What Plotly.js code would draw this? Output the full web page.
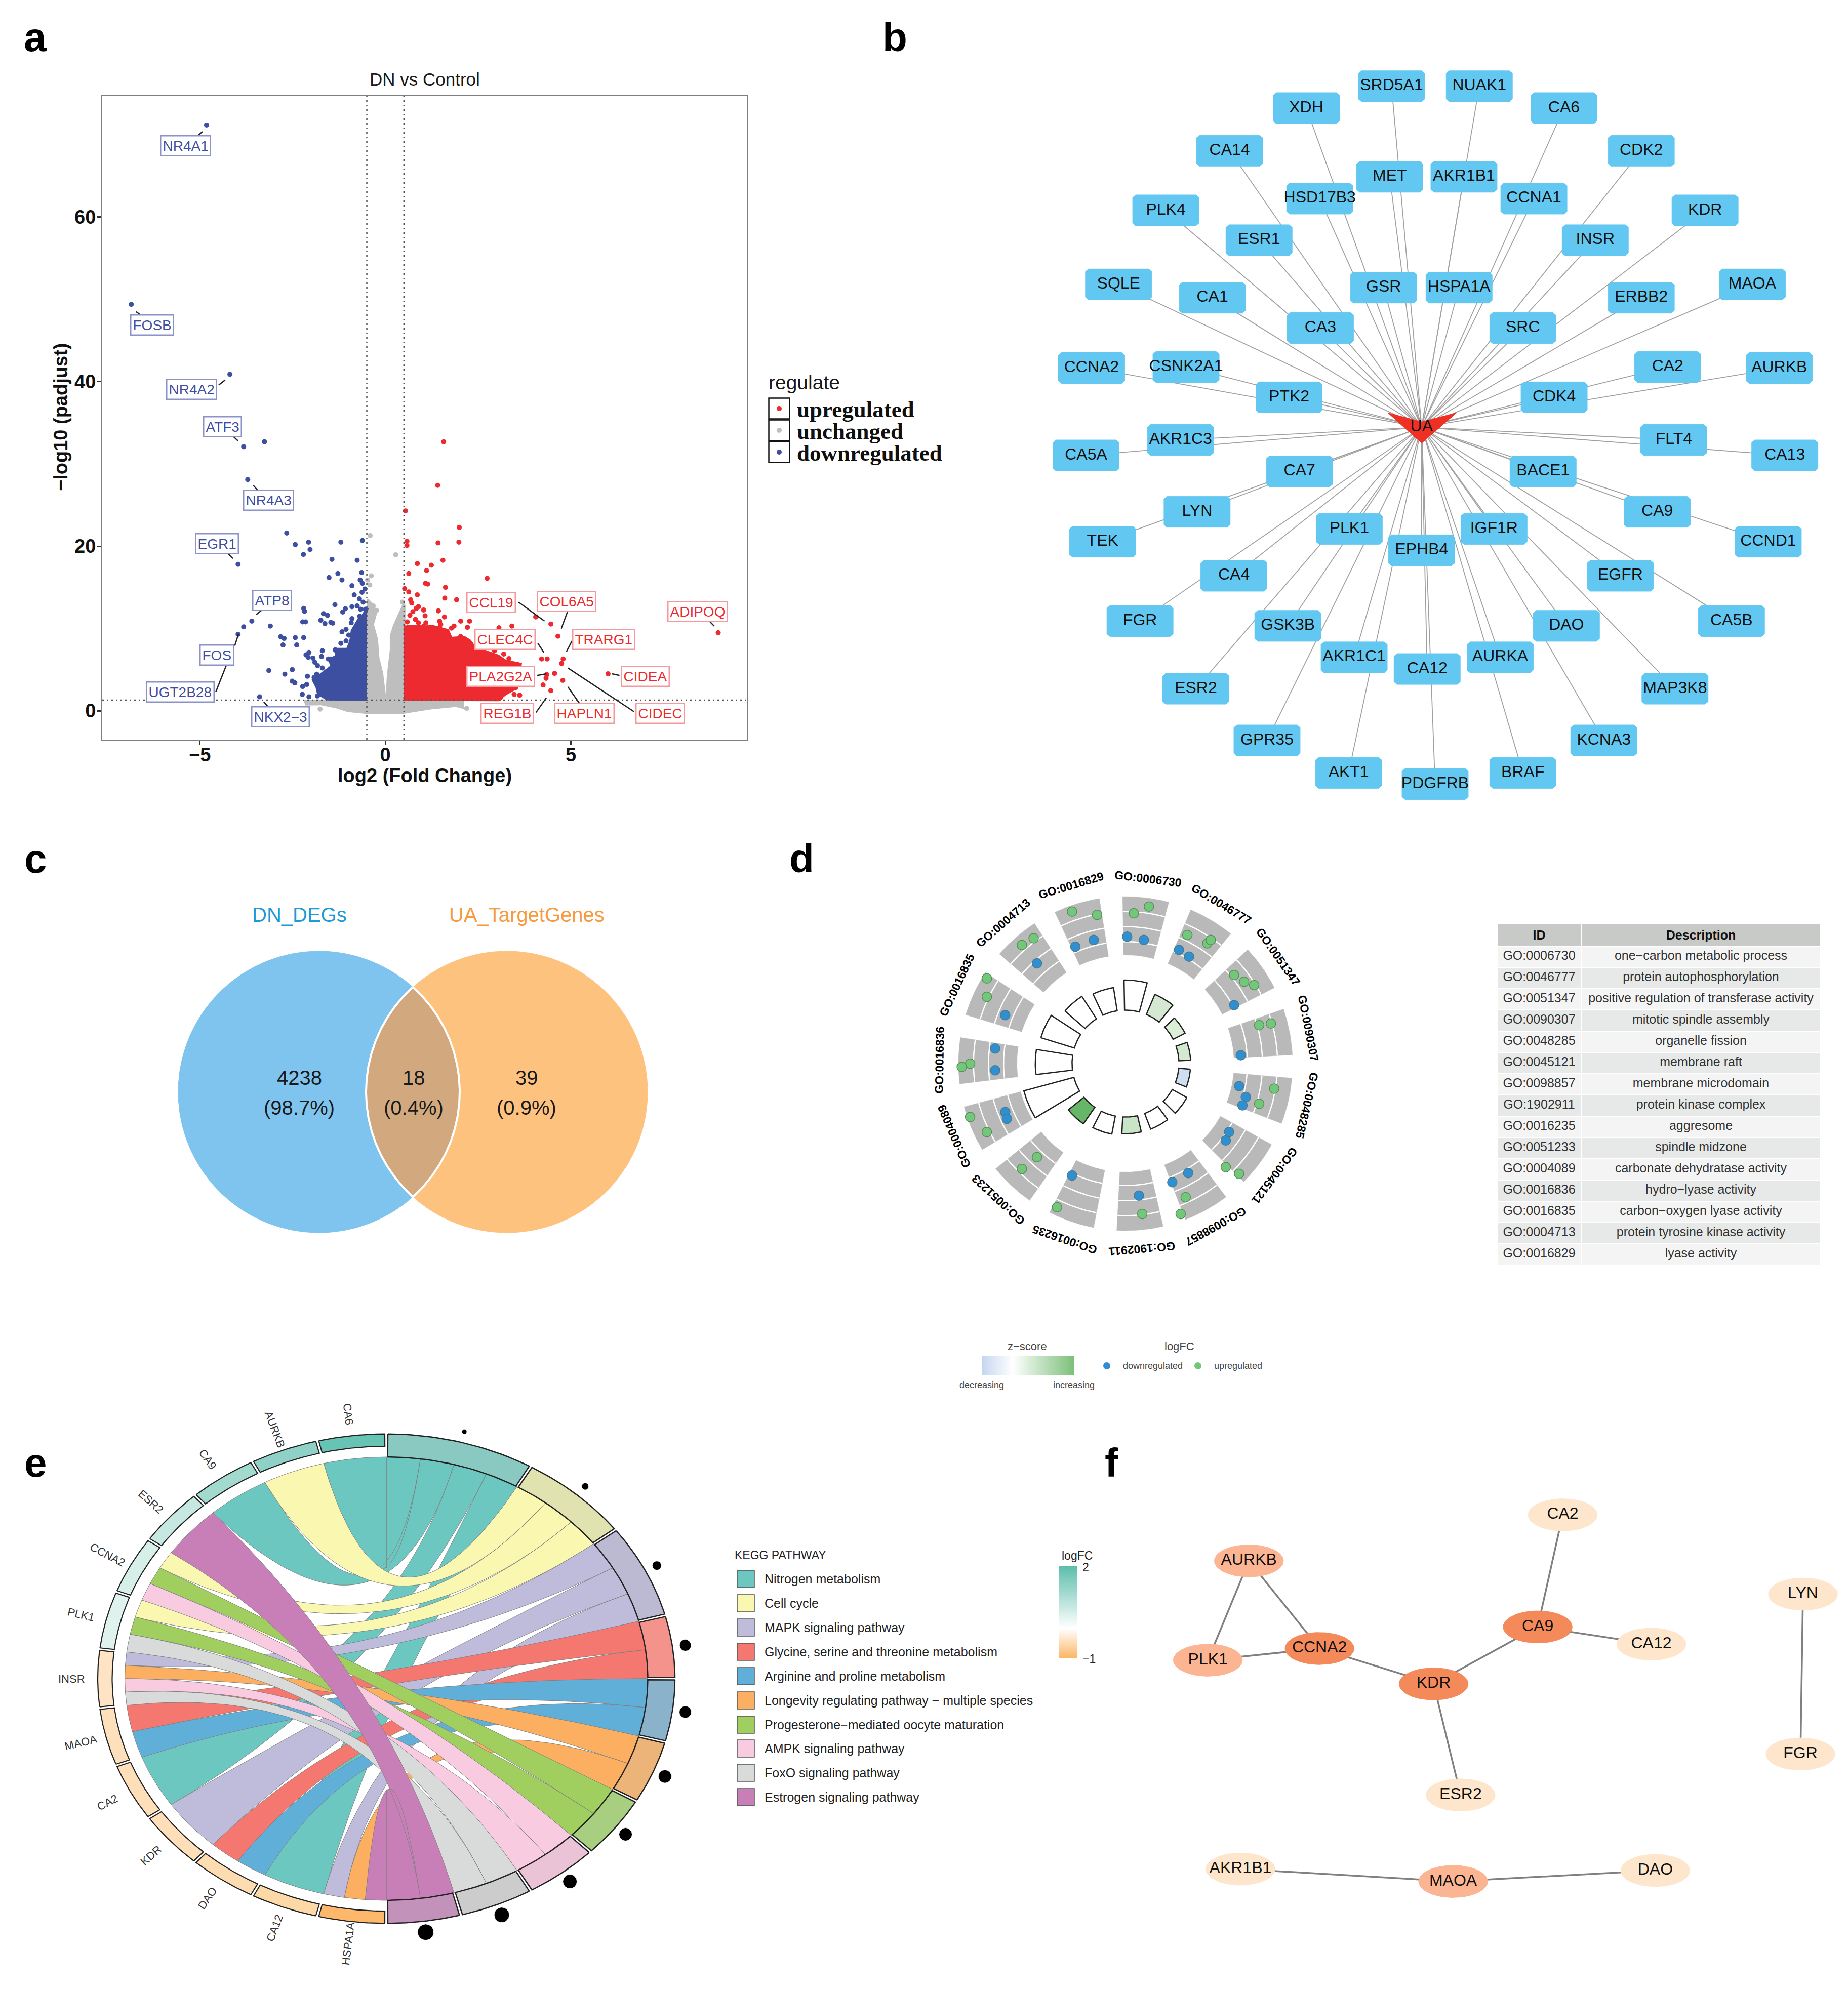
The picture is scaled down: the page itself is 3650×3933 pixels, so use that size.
<!DOCTYPE html>
<html><head><meta charset="utf-8">
<script src="https://cdn.plot.ly/plotly-3.0.1.min.js"></script>
<style>html,body{margin:0;padding:0;background:#fff}</style></head>
<body><div id="chart" style="width:3650px;height:3933px"></div>
<script>
// ---------- panel a: volcano ----------
const upX=[1.57,1.41,.54,1.99,1.98,1.42,.58,.58,1.55,.86,1.24,1.11,.63,2.74,1.08,1.14,1.62,.52,.63,.86,1.6,1.92,.68,.71,.89,.83,1.03,.74,.66,1.43,1.07,1.59,.81,.89,.59,1.09,1.46,2.03,2.27,1.85,1.78,2.21,3.06,3.41,4.05,4.46,4.65,4.21,4.36,4.79,4.75,4.56,4.35,4.33,4.78,4.25,4.46,6.0,3.19,2.94,3.33,3.58,3.4,3.47,3.62,3.17,3.1,8.97,.67,.9,1.03,1.26,1.42,1.49,1.46,1.65,1.8,2.03,2.12,2.3,2.53,2.76,2.94,3.03,3.24,3.58,3.51,3.2,3.12,3.07,2.81];
const upY=[32.7,27.4,24.3,22.3,20.5,20.4,20.6,20.1,18.3,17.9,17.7,17.05,16.7,16.1,15.5,15.4,15,14.85,14.45,14.1,13.7,13.5,13.5,13.1,12.65,12.45,12.25,12.05,11.6,12.15,11.55,11.4,11.1,10.7,10.8,10.7,10.9,10.9,10.9,10.3,10.05,10.15,10.1,10.3,11.4,10.55,9.07,6.3,6.3,6.3,5.75,4.55,4.4,3.95,3.7,3.15,2.45,4.5,6.9,7.3,6.35,5.6,5.6,2.0,1.9,2.2,1.6,9.5,9.99,10.2,10.26,9.99,9.58,10.5,10.1,9.48,8.66,9.03,8.45,8.14,7.22,6.81,6.6,5.99,5.68,5.48,2.81,2.91,2.91,1.48,1.48];
const upCoreX=[.5,3.03,3.22,3.53,3.62,3.22,3.03,2.76,2.4,2.26,2.12,1.76,1.67,1.26,.99,.67,.5];
const upCoreY=[1.45,1.4,2.1,2.9,5.6,6.0,6.6,7.0,7.6,8.45,8.85,8.75,9.7,10.2,10.1,10.2,10.1];
const downX=[-4.82,-6.85,-4.19,-3.82,-3.26,-3.71,-2.66,-2.43,-2.07,-2.03,-2.21,-1.2,-.62,-1.44,-.76,-.64,-1.28,-1.52,-1.17,-.68,-.62,-.9,-.55,-.63,-.84,-3.97,-3.6,-3.82,-3.97,-3.1,-2.2,-2.18,-2.23,-2.15,-2.82,-2.73,-2.43,-2.2,-2.76,-2.39,-3.14,-2.71,-2.51,-3.39,-2.1,-2.51,-2.44,-2.23,-2.12,-2.24,-2.06,-1.36,-1.08,-1.15,-.9,-1.67,-1.56,-1.74,-1.63,-1.47,-1.42,-.9,-.92,-1.06,-1.17,-.99,-1.2,-1.06,-2.06,-2.14,-2.08,-1.95,-1.9,-1.83,-1.7,-1.72,-1.7,-1.85,-1.9,-1.35,-1.47,-1.83,-1.79,-.7,-.6,-.76,-.67,-.54,-.69,-1.92,-1.74,-1.56,-1.33,-1.54];
const downY=[71.2,49.4,40.9,32.1,32.7,28.1,21.6,20.2,20.5,19.6,19,20.5,20.7,18.4,18.3,16.8,16.7,16.2,15.9,15.9,15.5,15.2,14.8,14.4,14.1,17.8,10.9,10.2,9.3,10.3,12.45,12.1,10.8,10.8,9,8.8,8.9,8.9,8,8,4.9,4.45,5,1.7,4.2,3.6,3.4,2.95,3.2,2,1.7,12.9,12.4,12,12.65,11.8,11.6,11,10.6,10.75,10.65,11.2,10.7,9.9,9.6,9.2,8.2,8.5,7.1,6.8,6.5,6.4,5.9,5.5,7.3,6.6,5.2,4.45,3.7,7.4,6.3,1.8,2.6,13.6,13.2,12.75,12.35,12.35,11.5,4.06,3.3,4.55,5.78,6.3];
const downCoreX=[-.5,-1.56,-1.79,-1.83,-1.92,-1.74,-1.6,-1.42,-1.49,-1.29,-1.33,-1.01,-.92,-.88,-.7,-.56,-.5];
const downCoreY=[1.45,1.5,2.1,2.9,3.7,4.35,4.76,5.4,6.2,6.6,7.4,7.4,8.45,9.7,11.1,11.7,12.55];
const flatX=[-.41,.28,-.38,-.48,-.42,-.33,-.24,.46,-1.76,2.19];
const flatY=[21.3,18.95,16.4,15.9,15.3,12.75,12.2,13.2,.2,.3];
const flatCoreX=[-.5,-.47,-.33,-.26,-.35,-.24,-.2,-.1,-.04,0,.05,.08,.16,.16,.24,.35,.39,.5,.5,2.08,2.08,1.9,1.21,.46,-.51,-1.01,-1.29,-1.74,-2.13,-2.15,-.5];
const flatCoreY=[13.4,13.4,12.75,11.95,10.5,8.7,6.4,4.55,2.3,1,1.7,4.3,7.4,9.1,10.3,11.5,11.8,12.9,1.27,1.27,.45,.65,.35,-.2,-.2,.04,.45,.86,.82,1.17,1.27];
const geneTags=['NR4A1','FOSB','NR4A2','ATF3','NR4A3','EGR1','ATP8','FOS','UGT2B28','NKX2\u22123','CCL19','COL6A5','ADIPOQ','CLEC4C','TRARG1','PLA2G2A','CIDEA','REG1B','HAPLN1','CIDEC'];
const tagX=[-5.38,-6.29,-5.22,-4.39,-3.15,-4.54,-3.05,-4.54,-5.53,-2.83,2.85,4.88,8.41,3.23,5.89,3.11,7.0,3.28,5.36,7.4];
const tagY=[68.7,46.9,39.1,34.5,25.6,20.3,13.4,6.8,2.3,-.75,13.2,13.3,12.05,8.7,8.7,4.2,4.2,-.3,-.3,-.3];
const leadX=[[-5.05,-4.93],[-6.72,-6.59],[-4.49,-4.32],[-4.09,-3.97],[-3.56,-3.44],[-4.24,-4.11],[-3.48,-3.34],[-4.06,-3.96],[-4.57,-4.29],[-3.28,-3.15],[3.59,4.29],[4.92,4.74],[8.73,8.86],[4.11,4.27],[5.03,4.88],[4.09,4.34],[6.31,6.11],[4.06,4.34],[5.23,4.92],[6.7,4.92]];
const leadY=[[69.9,70.4],[48.5,48.1],[39.6,40.2],[33.3,32.8],[27.4,26.8],[19.1,18.5],[11.7,12.2],[7.9,9.3],[2.3,5.5],[1.1,.44],[13.2,10.9],[12.2,10],[10.9,10.3],[8.2,7.1],[8.5,7.2],[4.3,4.5],[4.3,4.5],[-.2,1.6],[.9,2.9],[-.1,5.2]];
// ---------- panel b: target network ----------
const netNames=['SRD5A1','NUAK1','XDH','CA6','CA14','CDK2','MET','AKR1B1','HSD17B3','CCNA1','PLK4','KDR','ESR1','INSR','SQLE','MAOA','GSR','HSPA1A','CA1','ERBB2','CA3','SRC','CCNA2','CSNK2A1','CA2','AURKB','PTK2','CDK4','AKR1C3','FLT4','CA5A','CA13','CA7','BACE1','LYN','CA9','PLK1','IGF1R','TEK','CCND1','EPHB4','CA4','EGFR','FGR','CA5B','GSK3B','DAO','AKR1C1','AURKA','CA12','ESR2','MAP3K8','GPR35','KCNA3','AKT1','BRAF','PDGFRB'];
const netX=[824,967,685,1105,560,1231,821,942,707,1056,456,1335,608,1156,379,1412,811,934,532,1231,708,1038,335,489,1274,1456,657,1089,480,1284,326,1465,674,1071,507,1257,755,991,353,1438,873,567,1197,414,1378,655,1109,763,1001,882,505,1286,621,1170,754,1038,895];
const netY=[160,160,201,201,281,281,330,330,371,371,393,393,449,449,532,532,538,538,557,557,614,614,689,687,687,689,744,744,824,824,853,853,883,883,959,959,991,991,1015,1015,1031,1079,1079,1164,1164,1173,1173,1232,1232,1254,1291,1291,1388,1388,1449,1449,1470];
const hubName='UA', hubX=873, hubY=800;
// ---------- panel c: Venn ----------
const vennNames=['DN_DEGs','UA_TargetGenes'];
const vennCounts=['4238','18','39'];
const vennShares=['(98.7%)','(0.4%)','(0.9%)'];
// ---------- panel d: GO circle ----------
const goIds=['GO:0006730','GO:0046777','GO:0051347','GO:0090307','GO:0048285','GO:0045121','GO:0098857','GO:1902911','GO:0016235','GO:0051233','GO:0004089','GO:0016836','GO:0016835','GO:0004713','GO:0016829'];
const goDesc=['one\u2212carbon metabolic process','protein autophosphorylation','positive regulation of transferase activity','mitotic spindle assembly','organelle fission','membrane raft','membrane microdomain','protein kinase complex','aggresome','spindle midzone','carbonate dehydratase activity','hydro\u2212lyase activity','carbon\u2212oxygen lyase activity','protein tyrosine kinase activity','lyase activity'];
const goCount=[.5,.45,.40,.39,.39,.42,.42,.42,.43,.44,.63,.54,.53,.48,.46];
const goZ=['#ffffff','#d5e9d2','#dcedd8','#d3e9d0','#cfdff3','#ffffff','#ffffff','#c8e5c5','#ffffff','#66b668','#ffffff','#ffffff','#ffffff','#ffffff','#ffffff'];
const goDownX=[.01,.11,-.19,-.30,-.53,-.72,-.78,-.78,-.72,-.71,-.32,.08,.28,.375,.60,.62,.68,.72,.70,.69,.65,.32,.38];
const goDownY=[.76,.74,.74,.70,.60,.29,.09,-.04,-.29,-.33,-.67,-.79,-.71,-.655,-.46,-.41,-.135,-.20,-.25,.05,.35,.68,.64];
const goUpX=[.14,.05,-.32,-.17,-.55,-.62,-.83,-.83,-.93,-.98,-.93,-.83,-.62,-.53,-.41,.10,.36,.33,.60,.68,.89,.80,.80,.87,.65,.71,.77,.37,.49,.51];
const goUpY=[.94,.90,.91,.89,.75,.71,.51,.40,0,-.02,-.32,-.41,-.63,-.56,-.86,-.90,-.80,-.90,-.62,-.66,-.15,-.24,.23,.24,.53,.49,.47,.77,.72,.74];
// ---------- panel e: chord ----------
const pathNames=['Nitrogen metabolism','Cell cycle','MAPK signaling pathway','Glycine, serine and threonine metabolism','Arginine and proline metabolism','Longevity regulating pathway \u2212 multiple species','Progesterone\u2212mediated oocyte maturation','AMPK signaling pathway','FoxO signaling pathway','Estrogen signaling pathway'];
const pathRibbon=['#6cc7c1','#f9f7b0','#bfbcdb','#f4786f','#60afd8','#fcaf60','#a0cf5f','#f8cbe0','#d9dada','#c87fb7'];
const pathSector=['#89c9c2','#e0e3b0','#bcbad3','#f4938c','#8ab3cb','#ecb479','#a8cf80','#eac3d6','#cccccc','#c392ba'];
const pathSig=[10,14,18,23,24,26,26,28,30,32];
const chordGenes=['CA6','AURKB','CA9','ESR2','CCNA2','PLK1','INSR','MAOA','CA2','KDR','DAO','CA12','HSPA1A'];
const chordGeneFill=['#67c4b4','#8fd1c6','#a3dad0','#c7e8e0','#d6efe9','#dff2ee','#fee3c4','#fee0bd','#fedfb9','#fedfb9','#fedcb2','#fdd9a8','#fdb86c'];
const chordLinks=[[0],[1],[0],[9],[1,6,7],[1,6,8],[2,5,7,8],[3,4],[0],[2],[3,4],[0],[2,5,9]];
// ---------- panel f: PPI ----------
const ppiNames=['CA2','AURKB','LYN','CA9','CA12','CCNA2','PLK1','KDR','FGR','ESR2','AKR1B1','DAO','MAOA'];
const ppiX=[998,371,1478,948,1175,512,289,740,1473,794,354,1183,779];
const ppiY=[264,390,481,571,618,630,662,727,919,1031,1234,1238,1268];
const ppiFill=['#fee6cc','#fbb592','#fee6cc','#f4895a','#fee6cc','#f4895a','#fbb592','#f4895a','#fee6cc','#fee6cc','#fee6cc','#fee6cc','#fbb592'];
const ppiEdges=[['AURKB','PLK1'],['AURKB','CCNA2'],['PLK1','CCNA2'],['CCNA2','KDR'],['KDR','CA9'],['CA9','CA2'],['CA9','CA12'],['KDR','ESR2'],['LYN','FGR'],['AKR1B1','MAOA'],['MAOA','DAO']];

// ---------- build ----------
const W=3650,H=3933,SANS='Liberation Sans',SERIF='Liberation Serif';
const layout={width:W,height:H,margin:{l:0,r:0,t:0,b:0},paper_bgcolor:'#fff',plot_bgcolor:'rgba(0,0,0,0)',showlegend:false,hovermode:false,annotations:[],font:{family:SANS}};
const traces=[];
function ax(id,L,T,w,h,xr,yr){
  const s=id===1?'':id;
  layout['xaxis'+s]={domain:[L/W,(L+w)/W],range:xr,visible:false,anchor:'y'+s,fixedrange:true};
  layout['yaxis'+s]={domain:[1-(T+h)/H,1-T/H],range:yr,visible:false,anchor:'x'+s,fixedrange:true};
}
function add(id,t){const s=id===1?'':id;t.xaxis='x'+s;t.yaxis='y'+s;t.hoverinfo='skip';t.cliponaxis=false;traces.push(t);}
function note(id,x,y,text,size,opt){
  const s=id===1?'':id;
  layout.annotations.push(Object.assign({xref:'x'+s,yref:'y'+s,x,y,text,showarrow:false,font:{family:SANS,size,color:'#1a1a1a'}},opt||{}));
}
function poly(id,xs,ys,fill,lineColor,lineW){
  add(id,{type:'scatter',mode:'lines',x:xs,y:ys,fill:'toself',fillcolor:fill,line:{color:lineColor||fill,width:lineW===undefined?1:lineW,shape:'linear'}});
}
function dots(id,xs,ys,color,size){add(id,{type:'scatter',mode:'markers',x:xs,y:ys,marker:{color,size,line:{width:0}}});}
const rad=d=>d*Math.PI/180;
const pol=(th,r)=>[r*Math.sin(rad(th)),r*Math.cos(rad(th))];

// axes ids: 1 volcano, 2 page, 3 network, 4 venn, 5 go circle, 6 chord, 7 ppi, 8 z legend, 9 logFC legend
ax(2,0,0,W,H,[0,W],[H,0]);
ax(3,1750,2,1900,1650,[0,1568],[1568,0]);
ax(4,300,1780,1020,700,[300,1320],[2480,1780]);
ax(5,1827,1705,792,792,[-1.2,1.2],[-1.2,1.2]);
ax(6,763-684,3316-580,1368,1160,[-1.2,1.2],[-1.2,1.2]);
ax(7,2100,2802,1550,1131,[0,1568],[1568,0]);
ax(8,1939,2679,182,38,[-1,2],[0,1]);
ax(9,2091,3094,36,182,[0,1],[-1,2]);

// --- a
const tickFont={family:SANS,size:38,color:'#111',weight:700};
layout.xaxis={domain:[202/W,1475/W],range:[-7.63,9.74],anchor:'y',fixedrange:true,showline:true,mirror:true,linecolor:'#7f7f7f',linewidth:3,showgrid:false,zeroline:false,ticks:'outside',ticklen:8,tickwidth:3,tickcolor:'#333',tickvals:[-5,0,5],tickfont:tickFont,ticklabelstandoff:-14};
layout.yaxis={domain:[1-1461/H,1-190/H],range:[-3.5,74.7],anchor:'x',fixedrange:true,showline:true,mirror:true,linecolor:'#7f7f7f',linewidth:3,showgrid:false,zeroline:false,ticks:'outside',ticklen:8,tickwidth:3,tickcolor:'#333',tickvals:[0,20,40,60],tickfont:tickFont,ticklabelstandoff:-6};
poly(1,flatCoreX,flatCoreY,'#bebebe','#bebebe',6);
dots(1,flatX,flatY,'#bebebe',10);
poly(1,upCoreX,upCoreY,'#ee2a31','#ee2a31',8);
dots(1,upX,upY,'#ee2a31',10);
poly(1,downCoreX,downCoreY,'#3d4fa1','#3d4fa1',8);
dots(1,downX,downY,'#3d4fa1',10);
add(1,{type:'scatter',mode:'lines',x:[-.5,-.5,null,.5,.5,null,-7.63,9.74],y:[-3.5,74.7,null,-3.5,74.7,null,1.3,1.3],line:{color:'#555',width:2.5,dash:'3px,6px'},cliponaxis:true});
{const lx=[],ly=[];leadX.forEach((a,i)=>{lx.push(a[0],a[1],null);ly.push(leadY[i][0],leadY[i][1],null);});
 add(1,{type:'scatter',mode:'lines',x:lx,y:ly,line:{color:'#222',width:2.5}});}
geneTags.forEach((t,i)=>{const up=i>=10;
 note(1,tagX[i],tagY[i],t,28,{font:{family:SANS,size:28,color:up?'#ee2a31':'#3f4ea0'},bgcolor:'#fff',bordercolor:up?'#f7999b':'#8c93c8',borderwidth:2.5,borderpad:3});});
note(2,839,156,'DN vs Control',35);
note(2,839,1532,'log2 (Fold Change)',38,{font:{family:SANS,size:38,color:'#111',weight:700}});
note(2,120,824,'\u2212log10 (padjust)',38,{textangle:-90,font:{family:SANS,size:38,color:'#111',weight:700}});
note(2,1516,755,'regulate',39,{xanchor:'left'});
add(2,{type:'scatter',mode:'markers',x:[1539,1539,1539],y:[807,850,893],marker:{symbol:'square',size:41,color:'#fff',line:{color:'#111',width:2.5}}});
add(2,{type:'scatter',mode:'markers',x:[1539,1539,1539],y:[807,850,893],marker:{size:10,color:['#ee2a31','#bebebe','#3d4fa1']}});
['upregulated','unchanged','downregulated'].forEach((t,i)=>note(2,1572,[809,852,895][i],t,45,{xanchor:'left',font:{family:SERIF,size:45,color:'#111',weight:700}}));

// --- b
{const ex=[],ey=[];netX.forEach((x,i)=>{ex.push(hubX,x,null);ey.push(hubY,netY[i],null);});
 add(3,{type:'scatter',mode:'lines',x:ex,y:ey,line:{color:'#a0a0a0',width:1.8}});
 const rx=[],ry=[];const hw=54,hh=29,c=5;
 netX.forEach((x,i)=>{const y=netY[i];
  rx.push(x-hw+c,x+hw-c,x+hw,x+hw,x+hw-c,x-hw+c,x-hw,x-hw,x-hw+c,null);
  ry.push(y-hh,y-hh,y-hh+c,y+hh-c,y+hh,y+hh,y+hh-c,y-hh+c,y-hh,null);});
 add(3,{type:'scatter',mode:'lines',x:rx,y:ry,fill:'toself',fillcolor:'#62c8f2',line:{color:'#62c8f2',width:1}});
 poly(3,[hubX-55,hubX,hubX+57,hubX,hubX-55],[hubY-27,hubY-10,hubY-27,hubY+30,hubY-27],'#ee3124');
 add(3,{type:'scatter',mode:'text',x:netX.concat([hubX]),y:netY.concat([hubY]),text:netNames.concat([hubName]),textposition:'middle center',textfont:{family:SANS,size:32,color:'#111'}});
}

// --- c
function circle(cx,cy,r,a0,a1){const xs=[],ys=[];for(let a=a0;a<=a1+1e-6;a+=(a1-a0)/200){xs.push(cx+r*Math.cos(a));ys.push(cy+r*Math.sin(a));}return [xs,ys];}
{const R=278,c1=630,c2=1001,cy=2157;
 let p=circle(c1,cy,R,0,2*Math.PI);poly(4,p[0],p[1],'#7ec4ee');
 p=circle(c2,cy,R,0,2*Math.PI);poly(4,p[0],p[1],'#fec27f');
 const d=(c2-c1)/2,al=Math.acos(d/R);
 const a=circle(c1,cy,R,-al,al),b=circle(c2,cy,R,Math.PI-al,Math.PI+al);
 poly(4,a[0].concat(b[0]),a[1].concat(b[1]),'#d2a97f','#ffffff',4);
 note(4,591,1807,vennNames[0],40,{font:{family:SANS,size:40,color:'#1e9bd7'}});
 note(4,1040,1807,vennNames[1],40,{font:{family:SANS,size:40,color:'#f79a3e'}});
 [591,817,1040].forEach((x,i)=>{note(4,x,2129,vennCounts[i],40);note(4,x,2188,vennShares[i],40);});
}

// --- d
function sector(t0,t1,r0,r1){const xs=[],ys=[];const n=24;
 for(let k=0;k<=n;k++){const q=pol(t0+(t1-t0)*k/n,r1);xs.push(q[0]);ys.push(q[1]);}
 for(let k=n;k>=0;k--){const q=pol(t0+(t1-t0)*k/n,r0);xs.push(q[0]);ys.push(q[1]);}
 xs.push(xs[0]);ys.push(ys[0]);return [xs,ys];}
const goRings=[.73,.82,.91];
goIds.forEach((id,i)=>{const t0=24*i-1,t1=t0+16;
 let s=sector(t0,t1,.65,1);poly(5,s[0],s[1],'#b9b9b9','#b9b9b9',0.5);
 const ax_=[],ay_=[];goRings.forEach(r=>{for(let k=0;k<=12;k++){const q=pol(t0+(t1-t0)*k/12,r);ax_.push(q[0]);ay_.push(q[1]);}ax_.push(null);ay_.push(null);});
 add(5,{type:'scatter',mode:'lines',x:ax_,y:ay_,line:{color:'#fff',width:2.5}});
 s=sector(t0,t1,.32,goCount[i]);poly(5,s[0],s[1],goZ[i],'#222',2.5);
 const m=pol(t0+8,1.115);
 note(5,m[0],m[1],id,23,{textangle:t0+8,font:{family:SANS,size:23,color:'#000',weight:700}});
});
add(5,{type:'scatter',mode:'markers',x:goDownX,y:goDownY,marker:{size:19,color:'#2f8fd0',line:{color:'#4a7a8c',width:1.5}}});
add(5,{type:'scatter',mode:'markers',x:goUpX,y:goUpY,marker:{size:19,color:'#72c77a',line:{color:'#5a8c5a',width:1.5}}});
const rowFill=goIds.map((_,i)=>i%2?'#e6e9e7':'#f3f4f3');
traces.push({type:'table',domain:{x:[2957/W,3596/W],y:[1-2498/H,1-1825/H]},columnwidth:[166,473],
 header:{values:['<b>ID</b>','<b>Description</b>'],height:42,align:'center',fill:{color:'#c8cac8'},line:{color:'#fff',width:2},font:{family:SANS,size:25,color:'#111'}},
 cells:{values:[goIds,goDesc],height:42,align:'center',fill:{color:[rowFill,rowFill]},line:{color:'#fff',width:2},font:{family:SANS,size:25,color:'#333'}}});
note(2,2029,2659,'z\u2212score',22,{font:{family:SANS,size:22,color:'#444'}});
note(2,2329,2659,'logFC',22,{font:{family:SANS,size:22,color:'#444'}});
note(2,1939,2736,'decreasing',18,{font:{family:SANS,size:18,color:'#444'}});
note(2,2121,2736,'increasing',18,{font:{family:SANS,size:18,color:'#444'}});
note(2,2277,2698,'downregulated',18,{font:{family:SANS,size:18,color:'#444'}});
note(2,2445,2698,'upregulated',18,{font:{family:SANS,size:18,color:'#444'}});
add(2,{type:'scatter',mode:'markers',x:[2186,2366],y:[2698,2698],marker:{size:14,color:['#2f8fd0','#72c77a']}});
const zScale=[-1,-.8,-.6,-.4,-.2,0,.2,.4,.6,.8,1,1.2,1.4,1.6,1.8,2];
traces.push({type:'heatmap',xaxis:'x8',yaxis:'y8',x:zScale,y:[0,1],z:[zScale,zScale],showscale:false,hoverinfo:'skip',zmin:-1,zmax:2,zsmooth:'best',colorscale:[[0,'#c5d5f0'],[.33,'#ffffff'],[1,'#7cbf7a']]});

// --- e
{const rib=.906,gi=.95,step=180/13,unit=7.5;
 const pathFirst=[];const counts=pathNames.map((_,p)=>chordLinks.reduce((n,l)=>n+(l.includes(p)?1:0),0));
 let acc=0;counts.forEach(c=>{pathFirst.push(acc);acc+=c*unit;});
 const used=pathNames.map(()=>0);
 const perPath=pathNames.map(()=>({x:[],y:[]}));
 chordLinks.forEach((list,g)=>{
  const top=360-g*step,w=step/list.length;
  list.forEach((p,k)=>{
   const a0=top-k*w,a1=a0-w;
   const b0=pathFirst[p]+used[p]*unit,b1=b0+unit;used[p]++;
   const xs=[],ys=[];
   const arc=(t0,t1)=>{for(let q=0;q<=12;q++){const v=pol(t0+(t1-t0)*q/12,rib);xs.push(v[0]);ys.push(v[1]);}};
   const bez=(t0,t1)=>{const A=pol(t0,rib),B=pol(t1,rib);for(let q=1;q<40;q++){const u=q/40,c=(1-u)*(1-u),e=u*u;xs.push(c*A[0]+e*B[0]);ys.push(c*A[1]+e*B[1]);}};
   arc(a0,a1);bez(a1,b1);arc(b1,b0);bez(b0,a0);xs.push(xs[0]);ys.push(ys[0]);
   perPath[p].x.push(...xs,null);perPath[p].y.push(...ys,null);
  });
 });
 perPath.forEach((r,p)=>{add(6,{type:'scatter',mode:'lines',x:r.x,y:r.y,fill:'toself',fillcolor:pathRibbon[p],line:{color:'#808080',width:1}});});
 pathNames.forEach((_,p)=>{
  const t0=pathFirst[p],t1=t0+counts[p]*unit;
  const s=sector(t0+.3,t1-.3,rib,1);poly(6,s[0],s[1],pathSector[p],'#222',2.5);
 });
 const mx=[],my=[];pathNames.forEach((_,p)=>{const q=pol(pathFirst[p]+counts[p]*unit/2,1.045);mx.push(q[0]);my.push(q[1]);});
 add(6,{type:'scatter',mode:'markers',x:mx,y:my,marker:{color:'#000',size:pathSig,opacity:1}});
 chordGenes.forEach((g,i)=>{
  const t0=360-i*step,t1=t0-step;
  const s=sector(t1+.3,t0-.3,gi,1);poly(6,s[0],s[1],chordGeneFill[i],'#222',2.2);
  const mid=(t0+t1)/2,q=pol(mid,1.09);
  let ang=mid-270;
  note(6,q[0],q[1],g,22,{textangle:ang,font:{family:SANS,size:22,color:'#333'}});
 });
}
note(2,1449,3072,'KEGG PATHWAY',23,{xanchor:'left',font:{family:SANS,size:23,color:'#222'}});
{const ky=[3119,3167,3215,3263,3311,3359,3407,3454,3502,3550];
 add(2,{type:'scatter',mode:'markers',x:ky.map(()=>1473),y:ky,marker:{symbol:'square',size:34,color:pathRibbon,line:{color:'#555',width:1.5}}});
 pathNames.forEach((t,i)=>note(2,1508,ky[i],t,25,{xanchor:'left',font:{family:SANS,size:25,color:'#222'}}));
}
const logfcScale=[-1,-.75,-.5,-.25,0,.25,.5,.75,1,1.25,1.5,1.75,2];
traces.push({type:'heatmap',xaxis:'x9',yaxis:'y9',x:[0,1],y:logfcScale,z:logfcScale.map(v=>[v,v]),showscale:false,hoverinfo:'skip',zmin:-1,zmax:2,zsmooth:'best',colorscale:[[0,'#fdb462'],[.33,'#ffffff'],[1,'#5dbeac']]});
note(2,2127,3073,'logFC',23,{font:{family:SANS,size:23,color:'#222'}});
note(2,2144,3096,'2',23,{font:{family:SANS,size:23,color:'#222'}});
note(2,2151,3277,'\u22121',23,{font:{family:SANS,size:23,color:'#222'}});

// --- f
{const ex=[],ey=[];ppiEdges.forEach(e=>{const a=ppiNames.indexOf(e[0]),b=ppiNames.indexOf(e[1]);ex.push(ppiX[a],ppiX[b],null);ey.push(ppiY[a],ppiY[b],null);});
 add(7,{type:'scatter',mode:'lines',x:ex,y:ey,line:{color:'#808080',width:3.5}});
 ppiNames.forEach((n,i)=>{const xs=[],ys=[];for(let k=0;k<=72;k++){const a=k/72*2*Math.PI;xs.push(ppiX[i]+69*Math.cos(a));ys.push(ppiY[i]+44*Math.sin(a));}poly(7,xs,ys,ppiFill[i]);});
 add(7,{type:'scatter',mode:'text',x:ppiX,y:ppiY,text:ppiNames,textposition:'middle center',textfont:{family:SANS,size:32,color:'#111'}});
}

// panel letters
[['a',69,73],['b',1767,73],['c',70,1696],['d',1583,1695],['e',70,2889],['f',2195,2889]].forEach(l=>note(2,l[1],l[2],l[0],80,{font:{family:SANS,size:80,color:'#000',weight:700}}));

Plotly.newPlot('chart',traces,layout,{displayModeBar:false,staticPlot:true});
</script></body></html>
